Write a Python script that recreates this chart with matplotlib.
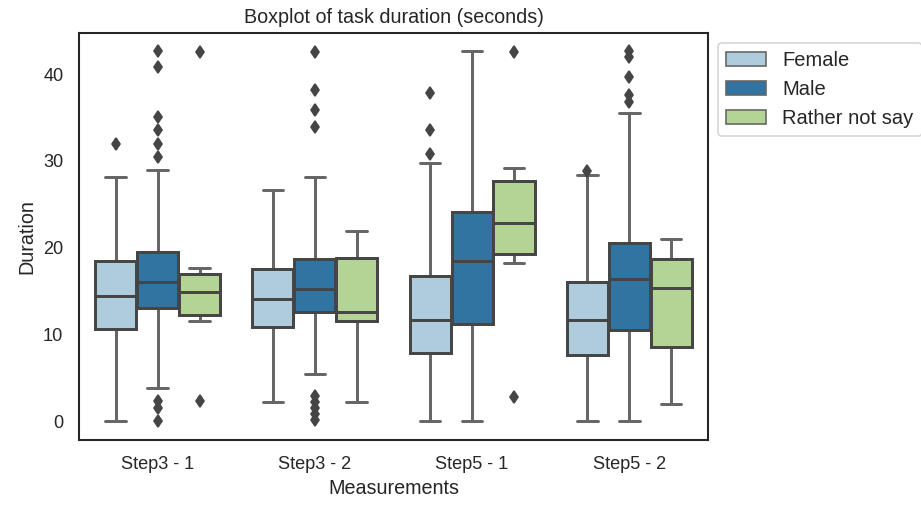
import numpy as np
import matplotlib
matplotlib.use("Agg")
import matplotlib.pyplot as plt
import matplotlib.patches as mpatches
import seaborn as sns

sns.set_theme(style="white", context="notebook")
plt.rcParams['font.family'] = ['Liberation Sans', 'DejaVu Sans']

steps = ["Step3 - 1", "Step3 - 2", "Step5 - 1", "Step5 - 2"]
genders = ["Female", "Male", "Rather not say"]

# summary stats: [low whisker, q1, median, q3, high whisker]
female = [[0.0, 10.7, 14.5, 18.5, 28.2],
          [2.3, 10.9, 14.1, 17.5, 26.6],
          [0.0, 7.9, 11.7, 16.8, 29.7],
          [0.0, 7.7, 11.7, 16.0, 28.4]]
male = [[3.8, 13.1, 16.1, 19.5, 29.0],
        [5.5, 12.6, 15.3, 18.75, 28.2],
        [0.0, 11.2, 18.5, 24.1, 42.6],
        [0.0, 10.5, 16.4, 20.55, 35.5]]
rather = [[11.6, 12.3, 14.9, 17.0, 17.7],
          [2.3, 11.6, 12.6, 18.8, 21.9],
          [18.3, 19.3, 22.8, 27.7, 29.2],
          [2.0, 8.6, 15.4, 18.75, 21.0]]

female_out = [[31.9], [], [37.8, 33.6, 30.8], [28.8]]
male_out = [[42.6, 40.8, 35.1, 33.5, 31.9, 30.4, 2.4, 1.6, 0.0],
            [42.5, 38.2, 35.9, 33.9, 2.9, 2.3, 1.6, 0.9, 0.2],
            [],
            [42.6, 42.0, 39.7, 37.6, 36.8]]
rather_out = [[42.5, 2.4], [], [42.5, 2.8], []]

series = [female, male, rather]
outliers = [female_out, male_out, rather_out]

base = sns.color_palette("Paired", 3)
colors = [sns.desaturate(c, 0.75) for c in base]
edge = (0.27, 0.27, 0.27)
wgray = (0.40, 0.40, 0.40)

fig = plt.figure(figsize=(7.76, 4.26), dpi=118.8)
ax = fig.add_axes([79/922, 66/506, 629/922, 407/506])

width = 0.8 / 3
for h, (vals, outs) in enumerate(zip(series, outliers)):
    stats = []
    pos = []
    for i, v in enumerate(vals):
        stats.append(dict(whislo=v[0], q1=v[1], med=v[2], q3=v[3], whishi=v[4],
                          fliers=outs[i]))
        pos.append(i + (h - 1) * width)
    ax.bxp(stats, positions=pos, widths=width * 0.98, patch_artist=True,
           boxprops=dict(facecolor=colors[h], edgecolor=edge, linewidth=1.8, zorder=3),
           medianprops=dict(color=edge, linewidth=1.8, zorder=4),
           whiskerprops=dict(color=wgray, linewidth=1.8, zorder=2),
           capprops=dict(color=wgray, linewidth=1.8, zorder=2),
           flierprops=dict(marker='d', markerfacecolor=edge, markeredgecolor=edge,
                           markersize=5.5))

ax.set_xlim(-0.5, 3.5)
ax.set_ylim(-2.13, 44.73)
ax.set_xticks(range(len(steps)))
ax.set_xticklabels(steps)
ax.set_yticks([0, 10, 20, 30, 40])
ax.set_xlabel("Measurements")
ax.set_ylabel("Duration")
ax.set_title("Boxplot of task duration (seconds)")

handles = [mpatches.Patch(facecolor=colors[h], edgecolor=wgray, label=genders[h])
           for h in range(3)]
ax.legend(handles=handles, bbox_to_anchor=(1, 1), loc="upper left", fontsize=12.2)

fig.savefig("out.png", dpi=118.8)
